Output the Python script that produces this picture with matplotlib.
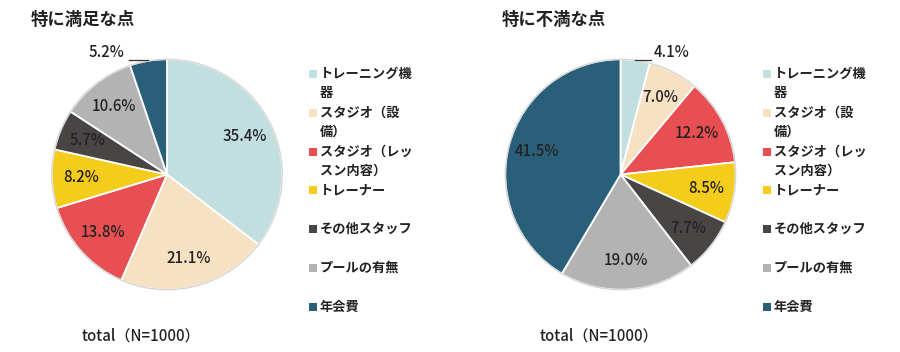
import matplotlib
matplotlib.use("Agg")
import matplotlib.pyplot as plt
from matplotlib.patches import Rectangle, Circle
import numpy as np

plt.rcParams['font.family'] = ['Noto Sans CJK JP', 'DejaVu Sans']

categories = ["トレーニング機器", "スタジオ（設備）", "スタジオ（レッスン内容）",
              "トレーナー", "その他スタッフ", "プールの有無", "年会費"]
legend_labels = ["トレーニング機\n器", "スタジオ（設\n備）", "スタジオ（レッ\nスン内容）",
                 "トレーナー", "その他スタッフ", "プールの有無", "年会費"]
satisfied = [35.4, 21.1, 13.8, 8.2, 5.7, 10.6, 5.2]
dissatisfied = [4.1, 7.0, 12.2, 8.5, 7.7, 19.0, 41.5]
titles = ["特に満足な点", "特に不満な点"]
note = "total（N=1000）"

colors = ["#c2dfdf", "#f7e1c3", "#e84f52", "#f4cd1c", "#4a4545", "#b3b3b4", "#2a5f7a"]

W, H = 900, 352
fig = plt.figure(figsize=(W / 100, H / 100), dpi=100)


def fx(px):
    return px / W


def fy(py):
    return 1 - py / H


def draw_pie(values, cx, cy, R, legend_x):
    ax = fig.add_axes([fx(cx - R), fy(cy + R), 2 * R / W, 2 * R / H])
    wedges, _ = ax.pie(values, colors=colors, startangle=90, counterclock=False,
                       radius=1.0, wedgeprops=dict(edgecolor="white", linewidth=1.3))
    ax.add_patch(Circle((0, 0), 1.0, fill=False, edgecolor="#d6d6d6", linewidth=1.0))
    ax.set_xlim(-1.02, 1.02)
    ax.set_ylim(-1.02, 1.02)
    ax.axis("off")
    for w, v in zip(wedges, values):
        ang = np.deg2rad((w.theta1 + w.theta2) / 2)
        lab = f"{v:.1f}%"
        if v < 5.5:
            ex = np.cos(ang)
            if ex < 0:
                x2 = ex - 0.17
                ax.plot([ex, x2], [0.995, 0.995], color="#333333", lw=0.9, clip_on=False)
                ax.text(x2 - 0.04, 0.985, lab, ha="right", va="bottom", fontsize=10.8,
                        fontweight=500, color="#222222", clip_on=False)
            else:
                x2 = ex + 0.14
                ax.plot([ex, x2], [0.995, 0.995], color="#333333", lw=0.9, clip_on=False)
                ax.text(x2 + 0.02, 0.985, lab, ha="left", va="bottom", fontsize=10.8,
                        fontweight=500, color="#222222", clip_on=False)
        else:
            r = 0.75
            ax.text(r * np.cos(ang), r * np.sin(ang), lab, ha="center", va="center",
                    fontsize=10.8, fontweight=500, color="#222222")
    # legend
    for i, (lab, c) in enumerate(zip(legend_labels, colors)):
        y = 74 + i * 38.8
        fig.patches.append(Rectangle((fx(legend_x), fy(y + 4)), 8 / W, 8 / H,
                                     transform=fig.transFigure, facecolor=c,
                                     edgecolor="none"))
        for j, ln in enumerate(lab.split("\n")):
            fig.text(fx(legend_x + 11), fy(y + j * 19), ln, ha="left", va="center",
                     fontsize=9.5, fontweight="bold", color="#222222")
    return ax


for k, (vals, cx, tx, lx, nx) in enumerate([
        (satisfied, 167, 31, 309, 82),
        (dissatisfied, 620.5, 502, 763, 540)]):
    draw_pie(vals, cx, 174.5, 117.5, lx)
    fig.text(fx(tx), fy(20), titles[k], ha="left", va="center", fontsize=12.5,
             fontweight="bold", color="#222222")
    fig.text(fx(nx), fy(336), note, ha="left", va="center", fontsize=10.8,
             fontweight=500, color="#222222")

fig.savefig("out.png", dpi=100, facecolor="white")
